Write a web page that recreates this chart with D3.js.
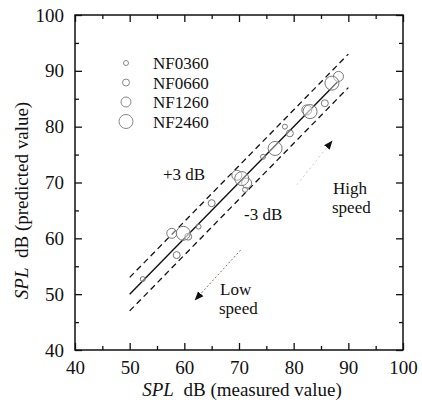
<!DOCTYPE html>
<html>
<head>
<meta charset="utf-8">
<script src="https://cdn.jsdelivr.net/npm/d3@7"></script>
<style>
  body { margin: 0; background: #fff; }
  svg text { font-family: "Liberation Serif", "DejaVu Serif", serif; }
</style>
</head>
<body>
<div id="chart"></div>
<script>
/* values: [measured, predicted] */
var seriesNames = ["NF0360", "NF0660", "NF1260", "NF2460"]
var markerSize = [2.5, 3.5, 5, 7]

var nf0360 = [[52.4, 52.7], [62.6, 62.1], [71.1, 68.7], [74.4, 74.6], [78.4, 80.0]]
var nf0660 = [[58.6, 57.0], [60.7, 60.3], [65.0, 66.3], [79.3, 78.8], [85.7, 84.2]]
var nf1260 = [[57.7, 60.9], [69.6, 71.3], [71.4, 69.9], [82.4, 83.0], [88.2, 89.0]]
var nf2460 = [[59.8, 60.9], [70.5, 70.7], [76.6, 76.1], [83.0, 82.7], [87.0, 87.8]]

var majorTicks = [40, 50, 60, 70, 80, 90, 100]
var minorTicks = [45, 55, 65, 75, 85, 95]

/* fit line and +-3 dB band */
var fitLine = [[50, 50], [88, 88]]
var upperLine = [[50, 53], [90, 93]]
var lowerLine = [[50, 47], [90, 87]]

/* speed arrows */
var lowArrow = [[70.3, 57.9], [62.0, 49.0]]
var highArrow = [[80.6, 69.6], [87.0, 77.4]]

var allSeries = [nf0360, nf0660, nf1260, nf2460]

var width = 422
    height = 408
    margin = {left: 75, right: 19, top: 15, bottom: 58}
    serif = "'Liberation Serif', 'DejaVu Serif', serif"

var x = d3.scaleLinear().domain([40, 100]).range([margin.left, width - margin.right])
var y = d3.scaleLinear().domain([40, 100]).range([height - margin.bottom, margin.top])

var svg = d3.select("#chart").append("svg")
    .attr("width", width)
    .attr("height", height)
    .attr("font-family", serif)

svg.append("defs").append("marker")
    .attr("id", "head")
    .attr("viewBox", "0 0 10 10")
    .attr("refX", 9).attr("refY", 5)
    .attr("markerWidth", 9).attr("markerHeight", 9)
    .attr("markerUnits", "userSpaceOnUse")
    .attr("orient", "auto")
  .append("path")
    .attr("d", "M0,1 L10,5 L0,9 Z")
    .attr("fill", "#111")

/* ticks on all four sides, pointing inward */
function tickAxis(axisFn, scale, vals, size, tx, ty, labels) {
  var g = svg.append("g")
      .attr("transform", "translate(" + tx + "," + ty + ")")
      .call(axisFn(scale).tickValues(vals).tickSize(-size).tickSizeOuter(0)
        .tickFormat(labels ? d3.format("d") : ""))
  g.attr("font-family", serif).attr("font-size", 19)
  g.select(".domain").remove()
  g.selectAll("line").attr("stroke", "#111").attr("stroke-width", 1.3)
  g.selectAll("text").attr("fill", "#111")
  return g
}

var bottomY = y(40), topY = y(100), leftX = x(40), rightX = x(100)

var gb = tickAxis(d3.axisBottom, x, majorTicks, 7, 0, bottomY, true)
gb.selectAll("text").attr("y", 11).attr("dy", "0.71em")
tickAxis(d3.axisBottom, x, minorTicks, 4, 0, bottomY, false)
tickAxis(d3.axisTop, x, majorTicks, 7, 0, topY, false)
tickAxis(d3.axisTop, x, minorTicks, 4, 0, topY, false)
var gl = tickAxis(d3.axisLeft, y, majorTicks, 7, leftX, 0, true)
gl.selectAll("text").attr("x", -11)
tickAxis(d3.axisLeft, y, minorTicks, 4, leftX, 0, false)
tickAxis(d3.axisRight, y, majorTicks, 7, rightX, 0, false)
tickAxis(d3.axisRight, y, minorTicks, 4, rightX, 0, false)

svg.append("rect")
    .attr("x", leftX).attr("y", topY)
    .attr("width", rightX - leftX).attr("height", bottomY - topY)
    .attr("fill", "none").attr("stroke", "#111").attr("stroke-width", 1.5)

/* axis titles */
var xt = svg.append("text")
    .attr("x", (leftX + rightX) / 2 + 3).attr("y", 396)
    .attr("text-anchor", "middle").attr("font-size", 19).attr("fill", "#111")
xt.append("tspan").attr("font-style", "italic").text("SPL")
xt.append("tspan").text("\u00a0 dB (measured value)")

var yt = svg.append("text")
    .attr("transform", "translate(28," + ((topY + bottomY) / 2 + 18) + ") rotate(-90)")
    .attr("text-anchor", "middle").attr("font-size", 19).attr("fill", "#111")
yt.append("tspan").attr("font-style", "italic").text("SPL")
yt.append("tspan").text("\u00a0 dB (predicted value)")

var line = d3.line().x(function(d) { return x(d[0]) }).y(function(d) { return y(d[1]) })

svg.append("path").datum(upperLine).attr("d", line)
    .attr("stroke", "#111").attr("stroke-width", 1.3).attr("stroke-dasharray", "6,4").attr("fill", "none")
svg.append("path").datum(lowerLine).attr("d", line)
    .attr("stroke", "#111").attr("stroke-width", 1.3).attr("stroke-dasharray", "6,4").attr("fill", "none")
svg.append("path").datum(fitLine).attr("d", line)
    .attr("stroke", "#111").attr("stroke-width", 1.4).attr("fill", "none")

/* data circles */
allSeries.forEach(function(s, i) {
  svg.append("g").selectAll("circle")
      .data(s)
      .enter()
      .append("circle")
      .attr("cx", function(d) { return x(d[0]) })
      .attr("cy", function(d) { return y(d[1]) })
      .attr("r", markerSize[i])
      .attr("fill", "#fff")
      .attr("fill-opacity", 0.4)
      .attr("stroke", "#777")
      .attr("stroke-width", 1)
})

/* speed arrows */
svg.append("path").datum(lowArrow).attr("d", line)
    .attr("stroke", "#777").attr("stroke-width", 1).attr("stroke-dasharray", "2,2")
    .attr("fill", "none").attr("marker-end", "url(#head)")
svg.append("path").datum(highArrow).attr("d", line)
    .attr("stroke", "#ccc").attr("stroke-width", 1).attr("stroke-dasharray", "2,3")
    .attr("fill", "none").attr("marker-end", "url(#head)")

/* legend */
var legend = svg.append("g").selectAll("g")
    .data(seriesNames)
    .enter()
    .append("g")
    .attr("transform", function(d, i) { return "translate(126," + (63 + i * 19.5) + ")" })
legend.append("circle")
    .attr("r", function(d, i) { return markerSize[i] })
    .attr("fill", "none").attr("stroke", "#888").attr("stroke-width", 1)
legend.append("text")
    .attr("x", 27).attr("y", 6)
    .attr("font-size", 17).attr("fill", "#111")
    .text(function(d) { return d })

/* annotations */
var notes = [
  {t: "+3 dB", x: 163, y: 180},
  {t: "-3 dB", x: 244, y: 220},
  {t: "High", x: 333, y: 194},
  {t: "speed", x: 332, y: 213},
  {t: "Low", x: 220, y: 295},
  {t: "speed", x: 219, y: 314}
]
svg.append("g").selectAll("text")
    .data(notes)
    .enter()
    .append("text")
    .attr("x", function(d) { return d.x })
    .attr("y", function(d) { return d.y })
    .attr("font-size", 17).attr("fill", "#111")
    .text(function(d) { return d.t })
</script>
</body>
</html>
